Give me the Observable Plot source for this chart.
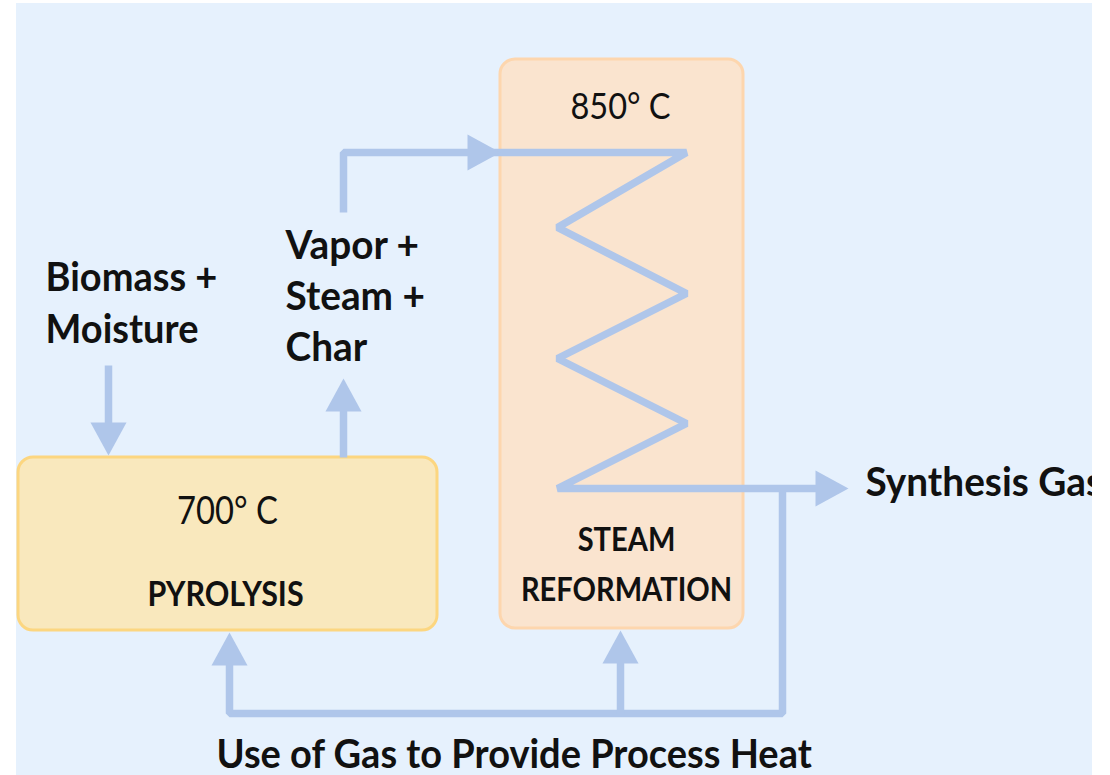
<!DOCTYPE html>
<html><head><meta charset="utf-8">
<script src="https://cdn.jsdelivr.net/npm/d3@7"></script>
<script src="https://cdn.jsdelivr.net/npm/@observablehq/plot@0.6"></script>
<style>
html,body{margin:0;padding:0;background:#ffffff;}
#chart{width:1110px;height:775px;overflow:hidden;}
</style></head><body><div id="chart"></div>
<script>
// ---------------- data ----------------
const stages = ["PYROLYSIS", "STEAM\nREFORMATION"];
const temperatures = [700, 850]; // °C
const feedLabel = "Biomass +\nMoisture";
const intermediateLabel = "Vapor +\nSteam +\nChar";
const productLabel = "Synthesis Gas";
const recycleLabel = "Use of Gas to Provide Process Heat";

// ---------------- layout (diagram units = px) ----------------
const canvas = {x1: 16, x2: 1092, y1: 3, y2: 775};
const boxLayout = [
  {x1: 18, x2: 437, y1: 457, y2: 630, fill: "#f9e8bd", stroke: "#fcd680"},
  {x1: 500, x2: 743, y1: 59, y2: 628, fill: "#fae4cf", stroke: "#fdd6ae"}
];
// arrow shafts (polyline points) and heads (tip + direction)
const arrowLayout = [
  {pts: [[108, 365], [108, 425]], tip: [108, 455], dir: "down"},
  {pts: [[343, 457], [343, 405]], tip: [343, 378], dir: "up"},
  {pts: [[343, 212], [343, 152], [478, 152]], tip: [500, 152], dir: "right"},
  {pts: [[478, 152], [686, 152], [557, 227], [686, 293], [557, 358], [686, 423], [557, 488], [825, 488]], tip: [848, 488], dir: "right"},
  {pts: [[782, 488], [782, 713], [229, 713], [229, 660]], tip: [229, 632], dir: "up"},
  {pts: [[620, 713], [620, 658]], tip: [620, 630], dir: "up"}
];
const head = {len: 33, half: 18};

// ---------------- derived tables ----------------
const boxes = boxLayout.map((b, i) => ({...b, stage: stages[i], temp: `${temperatures[i]}° C`}));
const shafts = arrowLayout.flatMap((a, k) => a.pts.map(([x, y]) => ({k, x, y})));
const heads = arrowLayout.flatMap((a, k) => {
  const [tx, ty] = a.tip, L = head.len, H = head.half;
  const v = {down: [0, 1], up: [0, -1], right: [1, 0]}[a.dir];
  const bx = tx - v[0] * L, by = ty - v[1] * L; // base centre
  const px = -v[1], py = v[0];
  return [[tx, ty], [bx + px * H, by + py * H], [bx - px * H, by - py * H], [tx, ty]].map(([x, y]) => ({k, x, y}));
});

const texts = [
  {t: feedLabel, x: 45, y: 342, anchor: "start", w: "bold", fs: 40, lh: 52, sx: 0.95},
  {t: intermediateLabel, x: 285, y: 360, anchor: "start", w: "bold", fs: 40, lh: 51, sx: 0.97},
  {t: productLabel, x: 865, y: 495, anchor: "start", w: "bold", fs: 40, lh: 50, sx: 0.97},
  {t: recycleLabel, x: 216, y: 767, anchor: "start", w: "bold", fs: 40, lh: 50, sx: 0.95},
  {t: boxes[0].temp, x: 227, y: 523, anchor: "middle", w: "normal", fs: 39, lh: 50, sx: 0.84},
  {t: boxes[1].temp, x: 620, y: 118, anchor: "middle", w: "normal", fs: 37, lh: 50, sx: 0.88},
  {t: boxes[0].stage, x: 225, y: 605, anchor: "middle", w: "bold", fs: 35, lh: 50, sx: 0.87},
  {t: boxes[1].stage, x: 626, y: 600, anchor: "middle", w: "bold", fs: 33, lh: 50, sx: 0.88}
];

const arrowColor = "#afc6ea";
const textMarks = texts.map(d => Plot.text([d], {
  x: "x", y: "y", text: "t", textAnchor: d.anchor, lineAnchor: "bottom",
  fontSize: d.fs, fontWeight: d.w, lineHeight: d.lh / d.fs, fill: "#111111",
  fontFamily: "Lato, 'Open Sans', sans-serif", ariaDescription: "sx:" + d.sx,
  clip: true
}));

const svg = Plot.plot({
  width: 1110, height: 775,
  marginLeft: 0, marginRight: 18, marginTop: 0, marginBottom: 0,
  x: {domain: [0, 1092], axis: null},
  y: {domain: [0, 775], reverse: true, axis: null},
  style: {background: "#ffffff", overflow: "hidden"},
  marks: [
    Plot.rect([canvas], {x1: "x1", x2: "x2", y1: "y1", y2: "y2", fill: "#e6f1fd"}),
    Plot.rect(boxes, {x1: "x1", x2: "x2", y1: "y1", y2: "y2", fill: "fill", stroke: "stroke", strokeWidth: 3, rx: 15, ry: 15}),
    Plot.line(shafts, {x: "x", y: "y", z: "k", stroke: arrowColor, strokeWidth: 7.5, strokeLinejoin: "miter", strokeLinecap: "butt", curve: "linear"}),
    Plot.line(heads, {x: "x", y: "y", z: "k", fill: arrowColor, stroke: "none", curve: "linear-closed"}),
    ...textMarks
  ]
});

// horizontally condense the labels (the reference uses a narrow face)
d3.select(svg).selectAll("g[aria-description^='sx:']").each(function () {
  const sx = +this.getAttribute("aria-description").slice(3);
  d3.select(this).selectAll("text").each(function () {
    let tr = this.getAttribute("transform");
    if (!tr) {
      const x = +(this.getAttribute("x") || 0), y = +(this.getAttribute("y") || 0);
      this.removeAttribute("x"); this.removeAttribute("y");
      tr = `translate(${x},${y})`;
    }
    this.setAttribute("transform", `${tr} scale(${sx},1)`);
  });
});

document.getElementById("chart").appendChild(svg);
</script>
</body></html>
